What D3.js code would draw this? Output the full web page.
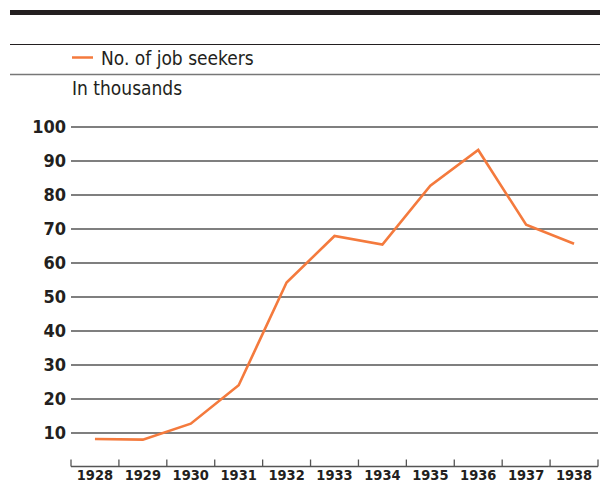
<!DOCTYPE html>
<html>
<head>
<meta charset="utf-8">
<script src="https://cdn.jsdelivr.net/npm/d3@7"></script>
<style>
	body { margin: 0; background: #fff; }
	svg { display: block; font-family: "DejaVu Sans Condensed", "DejaVu Sans", sans-serif; }
</style>
</head>
<body>
<div id="chart"></div>
<script>
const years = ['1928', '1929', '1930', '1931', '1932', '1933', '1934', '1935', '1936', '1937', '1938']
const jobSeekers = [8.1, 7.9, 12.6, 23.9, 54.1, 67.8, 65.3, 82.6, 93.1, 71.1, 65.5]
const yTicks = [10, 20, 30, 40, 50, 60, 70, 80, 90, 100]
const seriesName = 'No. of job seekers'
const unitLabel = 'In thousands'

const width = 600
const height = 484
const orange = '#f47a3d'

const svg = d3.select('#chart')
	.append('svg')
	.attr('width', width)
	.attr('height', height)

// header rules
svg.append('rect')
	.attr('x', 10).attr('y', 10)
	.attr('width', width - 10).attr('height', 5)
	.attr('fill', '#231f20')

svg.append('line')
	.attr('x1', 10).attr('x2', width)
	.attr('y1', 44.5).attr('y2', 44.5)
	.attr('stroke', '#231f20')
	.attr('stroke-width', 1.2)

svg.append('line')
	.attr('x1', 10).attr('x2', width)
	.attr('y1', 74.5).attr('y2', 74.5)
	.attr('stroke', '#777')
	.attr('stroke-width', 1.5)

// legend
svg.append('line')
	.attr('x1', 72).attr('x2', 93)
	.attr('y1', 57.5).attr('y2', 57.5)
	.attr('stroke', orange)
	.attr('stroke-width', 2.5)

svg.append('text')
	.attr('x', 101).attr('y', 65)
	.attr('font-size', 19)
	.attr('fill', '#231f20')
	.text(seriesName)

svg.append('text')
	.attr('x', 72).attr('y', 95)
	.attr('font-size', 19)
	.attr('fill', '#231f20')
	.text(unitLabel)

// scales
const x = d3.scaleBand()
	.domain(years)
	.range([71, 598])

const y = d3.scaleLinear()
	.domain([0, 100])
	.range([466.5, 126.5])

// gridlines + y labels
const yAxis = svg.append('g')
	.attr('transform', 'translate(71,0)')
	.call(d3.axisLeft(y)
		.tickValues(yTicks)
		.tickSize(-(598 - 71))
		.tickPadding(5))

yAxis.select('.domain').remove()
yAxis.selectAll('.tick line')
	.attr('stroke', '#555')
	.attr('stroke-width', 1.3)
yAxis.selectAll('.tick text')
	.attr('font-family', '"DejaVu Sans Condensed", "DejaVu Sans", sans-serif')
	.attr('font-size', 18)
	.attr('font-weight', 'bold')
	.attr('fill', '#231f20')
	.attr('dy', '0.36em')

// x axis: ticks at band edges, labels at band centers
const xg = svg.append('g')
	.attr('transform', `translate(0,${y(0)})`)

xg.append('line')
	.attr('x1', x.range()[0]).attr('x2', x.range()[1])
	.attr('stroke', '#555')
	.attr('stroke-width', 1.3)

const edges = years.map(d => x(d)).concat([x.range()[1]])
xg.selectAll('.edge')
	.data(edges)
	.enter()
	.append('line')
	.attr('class', 'edge')
	.attr('x1', d => d).attr('x2', d => d)
	.attr('y1', 0).attr('y2', -7)
	.attr('stroke', '#555')
	.attr('stroke-width', 1.3)

xg.selectAll('.year')
	.data(years)
	.enter()
	.append('text')
	.attr('class', 'year')
	.attr('x', d => x(d) + x.bandwidth() / 2)
	.attr('y', 13.5)
	.attr('text-anchor', 'middle')
	.attr('font-size', 14.5)
	.attr('font-weight', 'bold')
	.attr('fill', '#231f20')
	.text(d => d)

// series line
const line = d3.line()
	.x((d, i) => x(years[i]) + x.bandwidth() / 2)
	.y(d => y(d))

svg.append('path')
	.datum(jobSeekers)
	.attr('d', line)
	.attr('fill', 'none')
	.attr('stroke', orange)
	.attr('stroke-width', 2.6)
	.attr('stroke-linejoin', 'miter')
</script>
</body>
</html>
